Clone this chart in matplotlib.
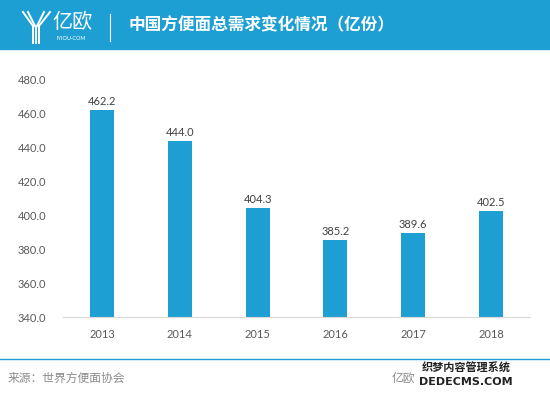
import matplotlib.pyplot as plt
from matplotlib.lines import Line2D
from matplotlib.patches import Rectangle

plt.rcParams['font.family'] = ['Lato', 'Noto Sans CJK SC', 'DejaVu Sans']

years = ['2013', '2014', '2015', '2016', '2017', '2018']
demand = [462.2, 444.0, 404.3, 385.2, 389.6, 402.5]
yticks = [340, 360, 380, 400, 420, 440, 460, 480]

title = '中国方便面总需求变化情况（亿份）'
source = '来源：世界方便面协会'

blue = '#1e9fd4'
W, H = 550, 395

fig = plt.figure(figsize=(5.5, 3.95), dpi=100)

# header band
fig.patches.append(Rectangle((0, 1 - 49 / H), 1, 49 / H, transform=fig.transFigure,
                             color=blue, zorder=0))
# divider in header
fig.add_artist(Line2D([110 / W, 110 / W], [1 - 14 / H, 1 - 41 / H], color='white', lw=0.8))
# rough logo mark: fanning strokes
for x0, x1 in ((23, 33), (28, 35), (44, 37), (50, 39)):
    fig.add_artist(Line2D([x0 / W, x1 / W], [1 - 12 / H, 1 - 26 / H], color='white', lw=1.4))
for x0 in (33, 36, 39):
    fig.add_artist(Line2D([x0 / W, x0 / W], [1 - 26 / H, 1 - 43 / H], color='white', lw=1.4))
fig.text(52 / W, 1 - 22 / H, '亿欧', color='white', fontsize=14.5,
         family=['Noto Sans CJK SC'], va='center', ha='left', fontweight='light')
fig.text(71 / W, 1 - 39 / H, 'IYIOU·COM', color='white', fontsize=4,
         va='center', ha='center')
fig.text(128 / W, 1 - 25 / H, title, color='white', fontsize=12, fontweight='bold',
         family=['Noto Sans CJK SC'], va='center', ha='left')

# chart
ax = fig.add_axes([63 / W, 1 - 317 / H, (530 - 63) / W, (317 - 80) / H])
x = range(len(years))
ax.bar(x, demand, width=0.31, color=blue, zorder=2)
for xi, v in zip(x, demand):
    ax.text(xi, v + 2.0, f'{v:.1f}', ha='center', va='bottom', fontsize=8, color='#404040')

ax.set_xlim(-0.5, len(years) - 0.5)
ax.set_ylim(340, 480)
ax.set_yticks(yticks)
ax.set_yticklabels([f'{t:.1f}' for t in yticks])
ax.set_xticks(list(x))
ax.set_xticklabels(years)
ax.tick_params(axis='both', length=0, labelsize=8, labelcolor='#595959')
ax.tick_params(axis='y', pad=12)
ax.tick_params(axis='x', pad=9)
for s in ('top', 'right', 'left'):
    ax.spines[s].set_visible(False)
ax.spines['bottom'].set_color('#d9d9d9')
ax.spines['bottom'].set_linewidth(0.8)

# footer
fig.add_artist(Line2D([0, 1], [1 - 359 / H, 1 - 359 / H], color=blue, lw=1.0))
fig.text(8 / W, 1 - 378 / H, source, color='#8c8c8c', fontsize=8.5,
         family=['Noto Sans CJK SC'], va='center', ha='left')
fig.text(392 / W, 1 - 378 / H, '亿欧', color='#8c8c8c', fontsize=8.5,
         family=['Noto Sans CJK SC'], va='center', ha='left')
fig.text(466 / W, 1 - 368 / H, '织梦内容管理系统', color='#222222', fontsize=8,
         family=['Noto Sans CJK SC'], fontweight='bold', va='center', ha='center')
fig.text(466 / W, 1 - 382 / H, 'DEDECMS.COM', color='#222222', fontsize=8,
         family=['DejaVu Sans'], fontweight='bold', va='center', ha='center')

fig.savefig('out.png', dpi=100)
